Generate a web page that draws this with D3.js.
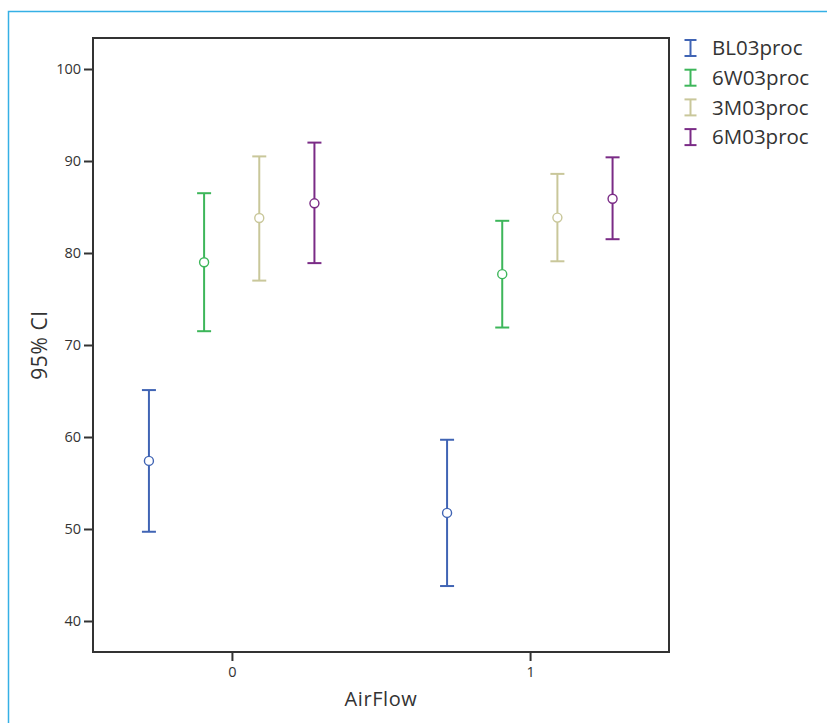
<!DOCTYPE html>
<html><head><meta charset="utf-8">
<script src="https://cdn.jsdelivr.net/npm/d3@7"></script>
<style>body{margin:0;background:#fff}svg{display:block}text{font-family:"Open Sans",sans-serif;fill:#333}</style>
</head><body><svg id="c" width="827" height="723"></svg>
<script>
const categories = ["0", "1"];
const series = ["BL03proc", "6W03proc", "3M03proc", "6M03proc"];
const colors = ["#4064b4", "#3db65a", "#c9c79a", "#7a2b86"];
const means = [[57.4, 51.75], [79.0, 77.7], [83.8, 83.85], [85.4, 85.9]];
const lower = [[49.7, 43.8], [71.5, 71.9], [77.0, 79.1], [78.9, 81.5]];
const upper = [[65.1, 59.7], [86.5, 83.5], [90.5, 88.6], [92.0, 90.4]];
const yTicks = [40, 50, 60, 70, 80, 90, 100];

const svg = d3.select("#c");
const L = 93, R = 669, T = 38, B = 652;

// outer blue frame
svg.append("path").attr("d", "M8.5,723V11.5H827").attr("fill", "none").attr("stroke", "#35b0e5").attr("stroke-width", 1.5);

const y = d3.scaleLinear().domain([36.63, 103.37]).range([B, T]);
const x = d3.scalePoint().domain(categories).range([L, R]).padding(0.466);
const off = d3.scalePoint().domain(series).range([-83, 82.5]);

// frame
svg.append("rect").attr("x", L).attr("y", T).attr("width", R - L).attr("height", B - T)
  .attr("fill", "none").attr("stroke", "#333").attr("stroke-width", 2);

const yAxis = svg.append("g").attr("transform", `translate(${L},0)`)
  .call(d3.axisLeft(y).tickValues(yTicks).tickSize(9).tickPadding(3).tickFormat(d3.format("d")));
yAxis.select(".domain").remove();
yAxis.selectAll("line").attr("stroke", "#333").attr("stroke-width", 2);
yAxis.selectAll("text").style("font-size", "14.5px").style("font-family", '"Open Sans",sans-serif').attr("fill", "#333");

const xAxis = svg.append("g").attr("transform", `translate(0,${B})`)
  .call(d3.axisBottom(x).tickSize(9).tickPadding(6));
xAxis.select(".domain").remove();
xAxis.selectAll("line").attr("stroke", "#333").attr("stroke-width", 2);
xAxis.selectAll("text").style("font-size", "14.5px").style("font-family", '"Open Sans",sans-serif').attr("fill", "#333");

svg.append("text").attr("x", (L + R) / 2).attr("y", 706).attr("text-anchor", "middle")
  .style("font-size", "20px").style("letter-spacing", "0.6px").text("AirFlow");
svg.append("text").attr("transform", `translate(47,${(T + B) / 2}) rotate(-90)`).attr("text-anchor", "middle")
  .style("font-size", "21px").style("letter-spacing", "0.6px").text("95% CI");

const cap = 7;
series.forEach((s, i) => {
  const g = svg.append("g").attr("stroke", colors[i]).attr("fill", "none");
  categories.forEach((c, j) => {
    const cx = x(c) + off(s);
    g.append("line").attr("x1", cx).attr("x2", cx).attr("y1", y(lower[i][j])).attr("y2", y(upper[i][j])).attr("stroke-width", 2);
    g.append("line").attr("x1", cx - cap).attr("x2", cx + cap).attr("y1", y(upper[i][j])).attr("y2", y(upper[i][j])).attr("stroke-width", 2);
    g.append("line").attr("x1", cx - cap).attr("x2", cx + cap).attr("y1", y(lower[i][j])).attr("y2", y(lower[i][j])).attr("stroke-width", 2);
    g.append("circle").attr("cx", cx).attr("cy", y(means[i][j])).attr("r", 4.5).attr("fill", "#fff").attr("stroke-width", 1.4);
  });
  // legend
  const ly = 48 + i * 29.7;
  const lg = svg.append("g");
  lg.append("line").attr("x1", 690.5).attr("x2", 690.5).attr("y1", ly - 8).attr("y2", ly + 8).attr("stroke", colors[i]).attr("stroke-width", 2);
  lg.append("line").attr("x1", 684.5).attr("x2", 696.5).attr("y1", ly - 8).attr("y2", ly - 8).attr("stroke", colors[i]).attr("stroke-width", 2);
  lg.append("line").attr("x1", 684.5).attr("x2", 696.5).attr("y1", ly + 8).attr("y2", ly + 8).attr("stroke", colors[i]).attr("stroke-width", 2);
  lg.append("text").attr("x", 712).attr("y", ly).attr("dy", "0.35em").style("font-size", "20.5px").text(s);
});
</script></body></html>
